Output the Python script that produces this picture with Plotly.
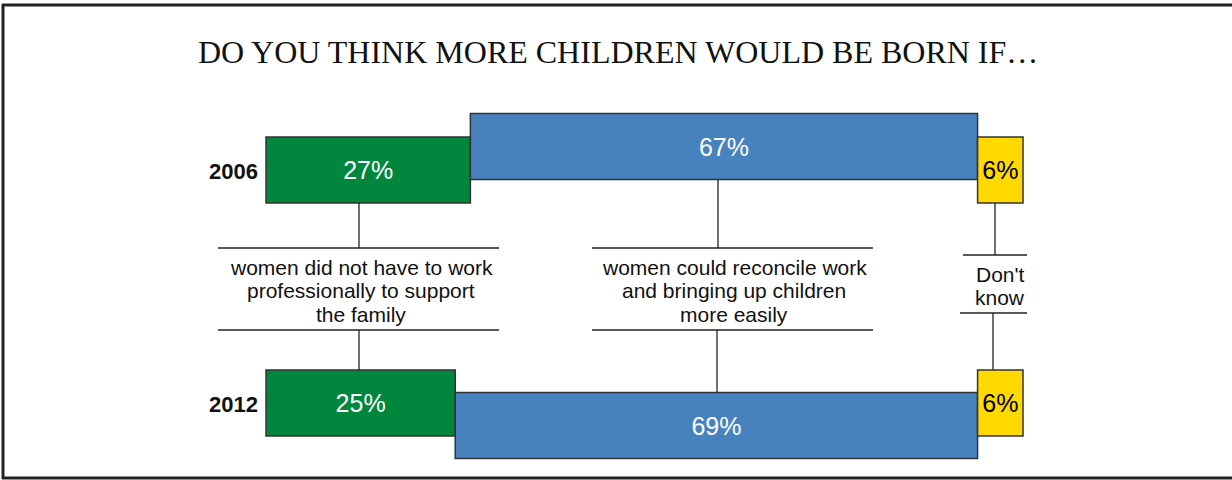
import plotly.graph_objects as go

# ---------------- data ----------------
title_text = "DO YOU THINK MORE CHILDREN WOULD BE BORN IF…"
years = ["2006", "2012"]
not_work = [27, 25]        # women did not have to work professionally to support the family
reconcile = [67, 69]       # women could reconcile work and bringing up children more easily
dont_know = [6, 6]         # Don't know
label_not_work = ["women did not have to work", "professionally to support", "the family"]
label_reconcile = ["women could reconcile work", "and bringing up children", "more easily"]
label_dont_know = ["Don't", "know"]

# ---------------- layout helpers ----------------
W, H = 1232, 480
X0_PX, X100_PX = 266, 1023           # pixel positions of 0% and 100%
ROW_PX = [170, 403]                  # pixel centre of each year row


def px_x(px):
    return (px - X0_PX) * 100.0 / (X100_PX - X0_PX)


def py_y(py):
    return (py - ROW_PX[0]) / (ROW_PX[1] - ROW_PX[0])


rows = list(range(len(years)))
bar_w = 66 / (ROW_PX[1] - ROW_PX[0])
blue_shift = [-23.5 / (ROW_PX[1] - ROW_PX[0]), 22.5 / (ROW_PX[1] - ROW_PX[0])]

GREEN = "#00873D"
BLUE = "#4782BE"
YELLOW = "#FFD900"
EDGE = "#333333"
SANS = "Liberation Sans, Arial, sans-serif"

base_green = [0 for _ in years]
base_blue = [g for g in not_work]
base_yellow = [g + b for g, b in zip(not_work, reconcile)]

fig = go.Figure()


def add_bar(values, base, ypos, color, txtcolor):
    fig.add_trace(go.Bar(
        orientation="h",
        y=ypos,
        x=values,
        base=base,
        width=bar_w,
        marker=dict(color=color, line=dict(color=EDGE, width=1.5)),
        text=[f"{v}%" for v in values],
        textposition="inside",
        insidetextanchor="middle",
        textangle=0,
        constraintext="none",
        textfont=dict(family=SANS, size=25, color=txtcolor),
        hoverinfo="skip",
        showlegend=False,
    ))


add_bar(not_work, base_green, rows, GREEN, "white")
add_bar(reconcile, base_blue, [r + s for r, s in zip(rows, blue_shift)], BLUE, "white")
add_bar(dont_know, base_yellow, rows, YELLOW, "black")

# ---------------- connector lines ----------------
shapes = []


def seg(x0, y0, x1, y1, w=1.3):
    shapes.append(dict(type="line", xref="x", yref="y",
                       x0=px_x(x0), x1=px_x(x1), y0=py_y(y0), y1=py_y(y1),
                       line=dict(color="#222222", width=w)))


# group 1
seg(359, 203, 359, 248)
seg(218, 248, 499, 248)
seg(218, 330, 499, 330)
seg(359, 330, 359, 370)
# group 2
seg(718, 180, 718, 248)
seg(592, 248, 873, 248)
seg(592, 330, 873, 330)
seg(717, 330, 717, 392)
# group 3
seg(995, 203, 995, 255)
seg(963, 255, 1027, 255)
seg(960, 313, 1027, 313)
seg(993, 313, 993, 370)

# outer frame: top, left and bottom edges (right edge lies outside the picture)
seg(2, 5, W, 5, w=3)
seg(3, 4, 3, 479, w=3)
seg(2, 478, W, 478, w=3)

# ---------------- text ----------------
annotations = []


def txt(s, xpx, ypx, size=21, bold=False, xanchor="center", family=SANS):
    annotations.append(dict(
        text=f"<b>{s}</b>" if bold else s,
        xref="x", yref="y", x=px_x(xpx), y=py_y(ypx),
        xanchor=xanchor, yanchor="middle", showarrow=False, borderpad=0,
        font=dict(family=family, size=size, color="#111111"),
    ))


txt(title_text, 618, 52, size=32, family="Liberation Serif, Times New Roman, serif")

for yr, ypx in zip(years, ROW_PX):
    txt(yr, 259, ypx + 1, size=22, bold=True, xanchor="right")

for i, line in enumerate(label_not_work):
    txt(line, 361, 267 + 23.5 * i)
for i, line in enumerate(label_reconcile):
    txt(line, 734, 267 + 23.5 * i)
for i, line in enumerate(label_dont_know):
    txt(line, 1000, 274 + 23.5 * i)

fig.update_layout(
    width=W, height=H,
    margin=dict(l=0, r=0, t=0, b=0),
    paper_bgcolor="white", plot_bgcolor="white",
    barmode="overlay",
    xaxis=dict(range=[px_x(0), px_x(W)], visible=False, fixedrange=True),
    yaxis=dict(range=[py_y(H), py_y(0)], visible=False, fixedrange=True),
    shapes=shapes,
    annotations=annotations,
    showlegend=False,
)

# place the figure flush with the page corner
fig.write_html("out.html",
               config={"displayModeBar": False, "staticPlot": True},
               post_script="document.body.style.margin='0';document.body.style.overflow='hidden';")
